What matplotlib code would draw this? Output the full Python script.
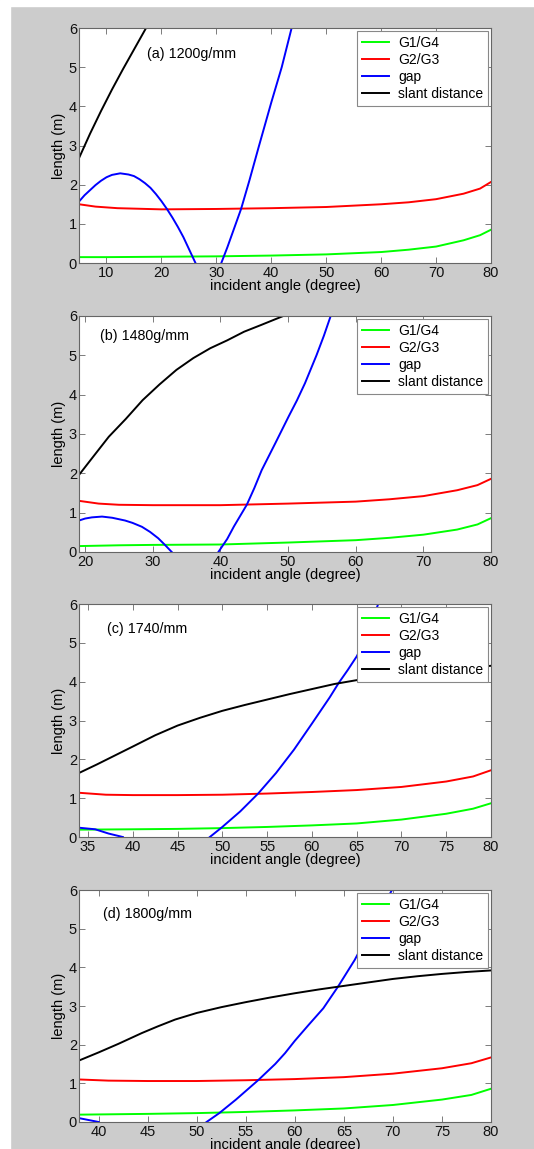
import matplotlib
matplotlib.use("Agg")
import matplotlib.pyplot as plt
import numpy as np
from matplotlib.patches import Rectangle

nan = np.nan

# (a) 1200 g/mm
a_g14_x = [5, 10, 20, 30, 40, 50, 55, 60, 65, 70, 75, 78, 80]
a_g14_y = [0.15, 0.15, 0.16, 0.17, 0.19, 0.22, 0.25, 0.28, 0.34, 0.42, 0.58, 0.71, 0.85]
a_g23_x = [5, 8, 12, 20, 30, 40, 50, 60, 65, 70, 75, 78, 80]
a_g23_y = [1.50, 1.44, 1.40, 1.37, 1.38, 1.40, 1.43, 1.50, 1.55, 1.63, 1.77, 1.90, 2.07]
a_gap_x = [5, 6, 7, 8, 9, 10, 11, 12.5, 14, 15, 16, 17, 18, 19, 20, 21, 22, 23, 24, 25, 26.2,
           nan, 30.9, 32, 34.5, 36, 37.7, 40, 41.9, 43.7, 44.5]
a_gap_y = [1.57, 1.73, 1.86, 1.99, 2.10, 2.19, 2.25, 2.29, 2.26, 2.22, 2.14, 2.04, 1.92, 1.76, 1.58,
           1.38, 1.16, 0.92, 0.66, 0.36, 0.0,
           nan, 0.0, 0.40, 1.38, 2.10, 2.96, 4.10, 5.0, 6.0, 6.4]
a_slant_x = [5, 7, 9, 11, 13, 15, 17, 18]
a_slant_y = [2.68, 3.30, 3.88, 4.43, 4.95, 5.45, 5.95, 6.2]

# (b) 1480 g/mm
b_g14_x = [19.1, 25, 30, 40, 50, 60, 65, 70, 75, 78, 80]
b_g14_y = [0.15, 0.17, 0.18, 0.19, 0.24, 0.30, 0.36, 0.44, 0.57, 0.70, 0.86]
b_g23_x = [19.1, 22, 25, 30, 40, 50, 60, 65, 70, 75, 78, 80]
b_g23_y = [1.30, 1.23, 1.20, 1.19, 1.19, 1.23, 1.28, 1.34, 1.42, 1.57, 1.70, 1.86]
b_gap_x = [19.1, 20, 21, 22.5, 24, 25.9, 27, 28.4, 29.6, 30.8, 31.8, 32.8,
           nan, 39.7, 41, 42, 43.9, 45, 46.1, 48.1, 50.1, 51.3, 52.5, 54.2, 55.3, 56.3, 57]
b_gap_y = [0.80, 0.85, 0.88, 0.90, 0.87, 0.80, 0.74, 0.64, 0.51, 0.35, 0.18, 0.0,
           nan, 0.0, 0.33, 0.65, 1.20, 1.62, 2.08, 2.76, 3.45, 3.85, 4.29, 5.0, 5.5, 6.0, 6.3]
b_slant_x = [19.1, 21, 23.5, 26, 28.5, 31, 33.5, 36, 38.5, 41, 43.5, 46, 49.3, 51]
b_slant_y = [1.96, 2.38, 2.93, 3.38, 3.86, 4.26, 4.63, 4.93, 5.18, 5.38, 5.60, 5.77, 6.0, 6.1]

# (c) 1740 /mm
c_g14_x = [34, 40, 45, 50, 55, 60, 65, 70, 75, 78, 80]
c_g14_y = [0.19, 0.20, 0.21, 0.23, 0.26, 0.30, 0.35, 0.45, 0.60, 0.73, 0.87]
c_g23_x = [34, 37, 40, 45, 50, 55, 60, 65, 70, 75, 78, 80]
c_g23_y = [1.14, 1.09, 1.08, 1.08, 1.09, 1.12, 1.16, 1.21, 1.29, 1.43, 1.56, 1.72]
c_gap_x = [34, 35.8, 37.3, 38.9,
           nan, 48.6, 50, 52, 54, 56, 58, 60, 62, 63, 64, 65, 66, 67.4, 68]
c_gap_y = [0.24, 0.20, 0.09, 0.0,
           nan, 0.0, 0.26, 0.66, 1.12, 1.65, 2.25, 2.92, 3.60, 3.97, 4.30, 4.65, 5.10, 6.0, 6.3]
c_slant_x = [34, 36, 38, 40, 42.5, 45, 47.5, 50, 52.5, 55, 57.5, 60, 62.5, 65, 67.5, 70, 75, 80]
c_slant_y = [1.65, 1.87, 2.10, 2.33, 2.62, 2.87, 3.07, 3.25, 3.40, 3.54, 3.68, 3.81, 3.94, 4.04,
             4.12, 4.18, 4.30, 4.41]

# (d) 1800 g/mm
d_g14_x = [38, 45, 50, 55, 60, 65, 70, 75, 78, 80]
d_g14_y = [0.19, 0.21, 0.23, 0.26, 0.30, 0.35, 0.44, 0.58, 0.70, 0.86]
d_g23_x = [38, 41, 45, 50, 55, 60, 65, 70, 75, 78, 80]
d_g23_y = [1.10, 1.07, 1.06, 1.06, 1.08, 1.11, 1.16, 1.25, 1.39, 1.52, 1.67]
d_gap_x = [38, 40, nan, 51.0, 52.3, 54, 56.3, 58, 59, 60, 61.4, 62.9, 64.4, 66.1, 68, 69.9, 70.5]
d_gap_y = [0.10, 0.0, nan, 0.0, 0.23, 0.58, 1.09, 1.50, 1.78, 2.10, 2.51, 2.94, 3.50, 4.19, 5.1, 6.0, 6.3]
d_slant_x = [38, 40, 42, 44.4, 46, 47.8, 50, 52.5, 55, 57.5, 60, 62.5, 65, 67.5, 70, 72.5, 75, 77.5, 80]
d_slant_y = [1.59, 1.80, 2.02, 2.30, 2.47, 2.65, 2.82, 2.97, 3.10, 3.22, 3.33, 3.43, 3.52, 3.61,
             3.70, 3.77, 3.83, 3.88, 3.92]

titles = ["(a) 1200g/mm", "(b) 1480g/mm", "(c) 1740/mm", "(d) 1800g/mm"]
xmins = [5, 19.1, 34, 38]
xticks = [np.arange(10, 81, 10), np.arange(20, 81, 10), np.arange(35, 81, 5), np.arange(40, 81, 5)]
series_names = ["G1/G4", "G2/G3", "gap", "slant distance"]
COLORS = ["#00ff00", "#ff0000", "#0000ff", "#000000"]

panels = [
    [(a_g14_x, a_g14_y), (a_g23_x, a_g23_y), (a_gap_x, a_gap_y), (a_slant_x, a_slant_y)],
    [(b_g14_x, b_g14_y), (b_g23_x, b_g23_y), (b_gap_x, b_gap_y), (b_slant_x, b_slant_y)],
    [(c_g14_x, c_g14_y), (c_g23_x, c_g23_y), (c_gap_x, c_gap_y), (c_slant_x, c_slant_y)],
    [(d_g14_x, d_g14_y), (d_g23_x, d_g23_y), (d_gap_x, d_gap_y), (d_slant_x, d_slant_y)],
]

# axes boxes in figure fraction (bottom, height)
boxes = [(0.7711, 0.2045), (0.5196, 0.2054), (0.2715, 0.2028), (0.0235, 0.2019)]
title_pos = [(0.166, 0.888), (0.050, 0.915), (0.069, 0.893), (0.058, 0.897)]

plt.rcParams["font.family"] = ["Liberation Sans", "DejaVu Sans"]
plt.rcParams["font.size"] = 10

fig = plt.figure(figsize=(5.34, 11.49), dpi=100)
fig.patch.set_facecolor("#cccccc")
# white margin strips at the left and top of the page
fig.patches.append(Rectangle((0, 0), 10 / 534, 1, transform=fig.transFigure, color="white", zorder=0))
fig.patches.append(Rectangle((0, 1 - 6 / 1149), 1, 6 / 1149, transform=fig.transFigure, color="white", zorder=0))

for i, data in enumerate(panels):
    bottom, height = boxes[i]
    ax = fig.add_axes([0.148, bottom, 0.7715, height])
    ax.set_facecolor("white")
    for j, (x, y) in enumerate(data):
        ax.plot(x, y, color=COLORS[j], lw=1.4, label=series_names[j])

    ax.set_xlim(xmins[i], 80)
    ax.set_ylim(0, 6)
    ax.set_xticks(xticks[i])
    ax.set_yticks(range(0, 7))
    ax.tick_params(direction="in", top=True, right=True, length=4, width=0.6,
                   color="#666666", labelsize=10.5, pad=2, labelcolor="#111111")
    ax.tick_params(axis="y", pad=1.5)
    for sp in ax.spines.values():
        sp.set_color("#666666")
        sp.set_linewidth(0.8)

    ax.set_xlabel("incident angle (degree)", fontsize=10.5, labelpad=-0.5)
    ax.set_ylabel("length (m)", fontsize=10.5, labelpad=2)
    ax.text(title_pos[i][0], title_pos[i][1], titles[i], transform=ax.transAxes,
            ha="left", va="center", fontsize=10.3)

    leg = ax.legend(loc="upper right", fontsize=10, fancybox=False, framealpha=1,
                    borderaxespad=0.2, handlelength=1.9, handletextpad=0.7,
                    labelspacing=0.22, borderpad=0.35)
    leg.get_frame().set_edgecolor("#888888")
    leg.get_frame().set_linewidth(0.8)

fig.savefig("out.png", dpi=100, facecolor=fig.get_facecolor())
